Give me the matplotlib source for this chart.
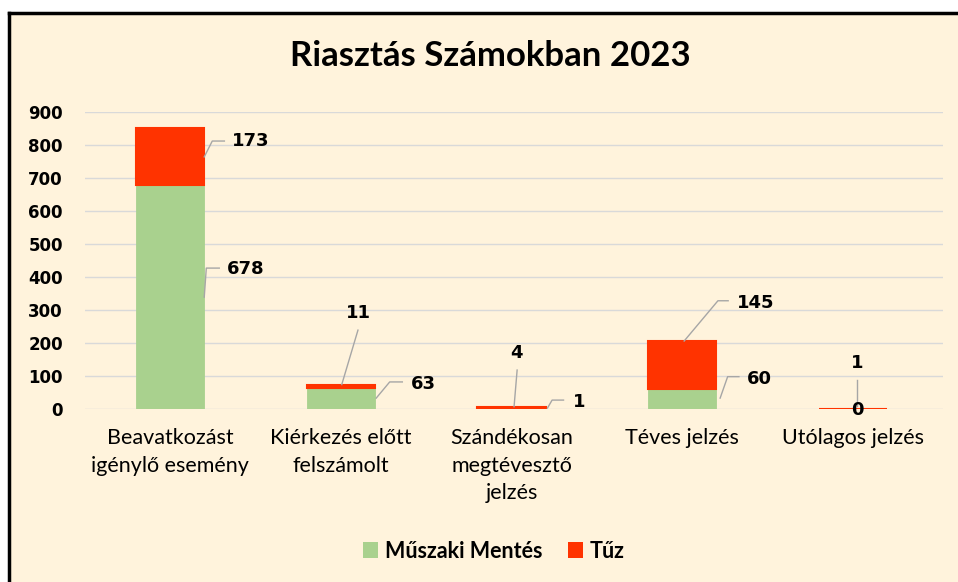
import matplotlib.pyplot as plt
from matplotlib.lines import Line2D
from matplotlib.patches import Rectangle, Patch
import numpy as np

# data
categories = ['Beavatkozást\nigénylő esemény', 'Kiérkezés előtt\nfelszámolt',
              'Szándékosan\nmegtévesztő\njelzés', 'Téves jelzés', 'Utólagos jelzés']
muszaki = [678, 63, 1, 60, 0]
tuz = [173, 11, 4, 145, 1]
y_ticks = [0, 100, 200, 300, 400, 500, 600, 700, 800, 900]
series_names = ['Műszaki Mentés', 'Tűz']

green = '#A9D18E'
red = '#FF3300'
cream = '#FFF3DC'
narrow = ['Lato', 'DejaVu Sans']

# label layout (text dx, text y, ha, leader points as (dx, y))
muszaki_layout = [
    (0.334, 424, 'left', [(0.199, 339), (0.211, 427), (0.287, 427)]),
    (0.410, 76, 'left', [(0.207, 33), (0.286, 82), (0.360, 82)]),
    (0.361, 22, 'left', [(0.211, 3), (0.238, 27), (0.305, 27)]),
    (0.381, 91, 'left', [(0.223, 33), (0.267, 98), (0.333, 98)]),
    (0.028, -4, 'center', []),
]
tuz_layout = [
    (0.363, 812, 'left', [(0.199, 764), (0.246, 812), (0.317, 812)]),
    (0.100, 291, 'center', [(0.005, 74), (0.100, 239)]),
    (0.030, 170, 'center', [(0.015, 7), (0.033, 118)]),
    (0.320, 322, 'left', [(0.012, 206), (0.210, 328), (0.270, 328)]),
    (0.028, 139, 'center', [(0.028, 9), (0.028, 88)]),
]

fig = plt.figure(figsize=(9.58, 5.82), dpi=100, facecolor='white')
fig.add_artist(Rectangle((10 / 958, 0), 1, 1 - 13 / 582, transform=fig.transFigure,
                         facecolor=cream, edgecolor='none', zorder=0))
fig.add_artist(Line2D([9 / 958, 1], [1 - 13 / 582, 1 - 13 / 582], transform=fig.transFigure,
                      color='black', lw=2.5, zorder=1))
fig.add_artist(Line2D([9 / 958, 9 / 958], [0, 1 - 13 / 582], transform=fig.transFigure,
                      color='black', lw=2.5, zorder=1))

ax = fig.add_axes([85 / 958, 173 / 582, 858 / 958, 297 / 582])
ax.set_facecolor('none')
x = np.arange(len(categories))
ax.bar(x, muszaki, width=0.4, color=green, edgecolor=green, lw=0.6, zorder=3)
ax.bar(x, tuz, width=0.4, bottom=muszaki, color=red, edgecolor=red, lw=1.5, zorder=3)

ax.set_xlim(-0.5, -0.5 + 858 / 170.6)
ax.set_ylim(0, 900)
ax.set_yticks(y_ticks)
ax.set_yticklabels([str(v) for v in y_ticks], fontsize=12, fontweight='bold', family='DejaVu Sans')
ax.tick_params(axis='y', length=0, pad=16)
ax.set_xticks(x)
ax.set_xticklabels(categories, fontsize=15.5, family=narrow, linespacing=1.45)
ax.tick_params(axis='x', length=0, pad=14)
ax.grid(axis='y', color='#D9D9D9', lw=1, zorder=0)
for s in ax.spines.values():
    s.set_visible(False)

for layout, vals in ((muszaki_layout, muszaki), (tuz_layout, tuz)):
    for i, (dx, ty, ha, pts) in enumerate(layout):
        if pts:
            ax.plot([i + p[0] for p in pts], [p[1] for p in pts], color='#A6A6A6', lw=1,
                    zorder=4, clip_on=False)
        ax.text(i + dx, ty, str(vals[i]), ha=ha, va='center', fontsize=13,
                fontweight='bold', family='DejaVu Sans', zorder=5, clip_on=False)

fig.text(490 / 958, 1 - 56 / 582, 'Riasztás Számokban 2023', ha='center', va='center',
         fontsize=25, fontweight='bold', family=['Lato', 'DejaVu Sans'])

handles = [Patch(facecolor=green, label=series_names[0]), Patch(facecolor=red, label=series_names[1])]
fig.legend(handles=handles, loc='center', bbox_to_anchor=(494 / 958, 1 - 551 / 582), ncol=2,
           frameon=False, handlelength=0.7, handleheight=0.7, handletextpad=0.3, columnspacing=1.2,
           prop={'family': narrow, 'weight': 'bold', 'size': 15.5})

fig.savefig('out.png', dpi=100, facecolor=fig.get_facecolor())
